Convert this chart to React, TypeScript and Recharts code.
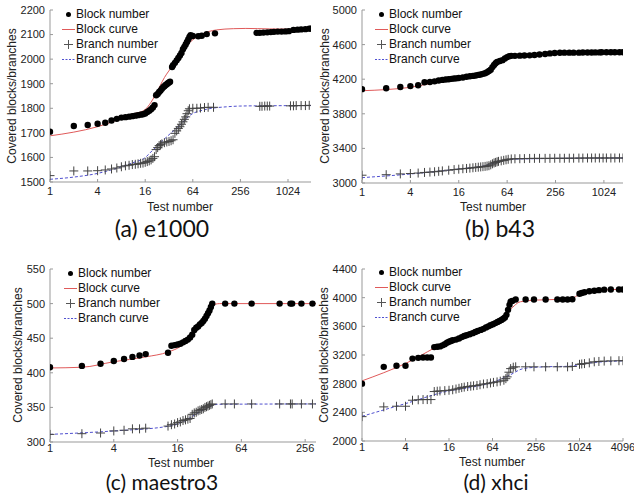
import React from 'react';
import { ComposedChart, Scatter, Line, XAxis, YAxis, Legend } from 'recharts';

// ---------- (a) e1000 ----------
const aBlockN = [1,2,3,4,5,6,7,8,9,10,11,12,13,14,15,16,17,18,19,20,21,22,23,24,25,26,27,28,29,30,31,32,33,35,36,38,40,42,44,46,48,50,52,54,56,58,60,64,75,83,96,122,410,450,500,560,620,680,760,850,950,1050,1200,1350,1500,1700,1900,2000];
const aBlockV = [1705,1728,1732,1737,1741,1750,1757,1762,1764,1766,1768,1770,1772,1774,1776,1779,1785,1790,1796,1803,1813,1853,1858,1866,1872,1880,1886,1890,1895,1898,1902,1905,1908,1968,1975,1985,1995,2005,2015,2025,2040,2050,2060,2070,2080,2090,2097,2094,2093,2095,2102,2105,2107,2107,2108,2109,2110,2111,2112,2112,2113,2114,2119,2120,2121,2122,2124,2124];
const aBlockCurveN = [1,2,4,8,11,13,16,19,22,28,36,48,60,79,128,208,300,600,1024,2000];
const aBlockCurveV = [1688,1703,1725,1759,1777,1782,1795,1825,1860,1925,1976,2037,2071,2098,2119,2124,2125,2123,2122,2123];
const aBranchN = [1,2,3,4,5,6,7,8,9,10,11,12,13,14,15,16,17,18,19,20,21,22,23,24,25,26,28,30,32,34,36,38,40,42,44,46,48,50,52,54,56,58,64,72,80,90,100,117,450,480,520,560,600,1100,1200,1300,1500,1700,1900];
const aBranchV = [1526,1545,1545,1546,1549,1553,1557,1562,1566,1568,1571,1572,1574,1576,1577,1580,1583,1586,1590,1596,1603,1632,1640,1648,1652,1655,1660,1663,1665,1668,1672,1698,1708,1718,1725,1735,1745,1755,1765,1778,1790,1798,1800,1800,1801,1803,1804,1804,1808,1808,1809,1809,1809,1810,1810,1811,1811,1811,1812];
const aBranchCurveN = [1,2,4,8,12,15,20,25,30,44,60,96,170,250,400,2000];
const aBranchCurveV = [1511,1520,1535,1562,1582,1593,1630,1660,1684,1732,1773,1796,1806,1809,1810,1811];

// ---------- (b) b43 ----------
const bBlockN = [1,2,3,4,5,6,7,8,9,10,11,12,13,14,15,16,18,20,22,24,26,28,30,32,34,36,38,40,42,44,46,48,52,56,60,64,68,72,80,92,105,122,140,162,190,218,250,290,330,380,430,500,560,640,720,800,900,960,1100,1250,1400,1600,1770];
const bBlockV = [4085,4095,4110,4120,4130,4165,4168,4175,4185,4192,4197,4200,4204,4208,4210,4214,4220,4228,4234,4238,4242,4250,4255,4262,4268,4280,4295,4310,4340,4365,4385,4400,4410,4420,4440,4455,4465,4470,4470,4472,4474,4476,4480,4486,4492,4498,4503,4506,4507,4507,4507,4507,4508,4508,4509,4510,4510,4511,4511,4511,4511,4511,4511];
const bBlockCurveN = [1,2,4,8,16,24,34,40,46,55,65,92,290,1770];
const bBlockCurveV = [4067,4080,4106,4160,4210,4245,4287,4333,4383,4430,4453,4468,4499,4511];
const bBranchN = [1,2,3,4,5,6,7,8,9,10,12,14,16,18,20,22,24,26,28,30,32,34,36,38,40,42,44,46,48,50,54,58,62,66,72,80,92,105,122,140,162,190,218,250,290,330,380,430,500,560,640,720,800,900,1000,1100,1250,1400,1600,1770];
const bBranchV = [3090,3096,3105,3110,3115,3122,3126,3130,3135,3140,3148,3155,3160,3165,3168,3172,3176,3180,3183,3186,3189,3192,3196,3200,3210,3222,3232,3238,3245,3250,3256,3262,3268,3274,3278,3280,3281,3282,3284,3285,3285,3285,3285,3286,3286,3286,3287,3287,3288,3288,3289,3289,3289,3289,3289,3289,3289,3289,3289,3289];
const bBranchCurveN = [1,4,16,34,50,72,150,1770];
const bBranchCurveV = [3062,3104,3162,3200,3246,3274,3281,3289];

// ---------- (c) maestro3 ----------
const cBlockN = [1,2,3,4,5,6,7,8,13,14,15,16,17,18,19,20,21,22,23,24,25,26,27,28,29,30,31,32,33,34,45,55,80,147,186,193,236,300];
const cBlockV = [408,410,413,417,420,423,425,427,429,439,440,441,442,444,446,448,451,455,462,465,467,470,472,475,478,482,486,490,495,500,500,500,500,500,500,500,500,500];
const cBlockCurveN = [1,2,4,8,13,17,22,28,34,36,40,324];
const cBlockCurveV = [407,408,416,423,430,438,454,474,496,499,500,500];
const cBranchN = [1,2,3,4,5,6,7,8,13,14,15,16,17,18,19,20,21,22,23,24,25,26,27,28,29,30,31,32,33,34,45,55,80,147,186,193,236,300];
const cBranchV = [311,312,313,316,317,319,319,320,323,325,326,328,329,331,332,333,334,340,342,343,345,346,347,348,350,351,352,353,354,355,355,355,355,355,355,355,355,355];
const cBranchCurveN = [1,4,13,17,22,30,38,324];
const cBranchCurveV = [311,316,322.7,327.5,337,349,354.5,355];

// ---------- (d) xhci ----------
const dBlockN = [1,2,3,4,5,6,7,8,9,10,11,12,13,14,15,16,17,18,20,22,24,26,28,31,34,37,40,44,48,52,56,60,65,70,75,80,85,90,95,100,105,110,114,120,134,184,240,348,505,600,700,815,1024,1100,1200,1400,1640,1900,2250,2780,3600,4096];
const dBlockV = [2800,3035,3050,3050,3150,3160,3165,3165,3165,3310,3315,3320,3335,3350,3370,3385,3395,3405,3415,3430,3450,3465,3475,3490,3505,3520,3535,3550,3565,3585,3600,3615,3630,3645,3660,3675,3690,3705,3725,3760,3830,3900,3945,3955,3975,3975,3975,3975,3975,3975,3975,3978,4055,4065,4075,4090,4097,4105,4112,4115,4115,4115];
const dBlockCurveN = [1,4,16,35,67,105,156,270,770,1070,2000,4096];
const dBlockCurveV = [2839,3081,3398,3515,3640,3804,3943,3967,3981,4060,4106,4116];
const dBranchN = [1,2,3,4,5,6,7,8,9,10,11,12,14,16,18,20,22,24,26,29,32,35,39,43,48,54,60,66,74,82,92,98,102,108,114,124,134,184,240,348,505,700,815,1024,1100,1200,1400,1640,1900,2250,2780,3600,4096];
const dBranchV = [2340,2476,2485,2485,2569,2575,2578,2578,2578,2690,2695,2698,2703,2708,2715,2725,2735,2745,2752,2760,2765,2770,2775,2785,2795,2800,2810,2818,2825,2835,2848,2870,2895,2960,3010,3030,3035,3035,3035,3035,3035,3035,3040,3070,3075,3080,3090,3105,3110,3115,3118,3120,3120];
const dBranchCurveN = [1,4,16,35,67,110,172,330,770,1070,4096];
const dBranchCurveV = [2345,2522,2699,2755,2825,2918,3011,3035,3044,3072,3119];

const xTicksA = [1,4,16,64,256,1024];
const xTicksC = [1,4,16,64,256];
const xTicksD = [1,4,16,64,256,1024,4096];
const yTicksA = [1500,1600,1700,1800,1900,2000,2100,2200];
const yTicksB = [3000,3400,3800,4200,4600,5000];
const yTicksC = [300,350,400,450,500,550];
const yTicksD = [2000,2400,2800,3200,3600,4000,4400];

const FONT = "'Liberation Sans', Arial, sans-serif";
const RED = '#e05a5a';
const BLUE = '#5050d0';
const AXIS = '#999';

const zip = (n: number[], v: number[]) => n.map((x, i) => ({ x, y: v[i] }));

const Dot = (p: any) => <circle cx={p.cx} cy={p.cy} r={3.2} fill="#000" />;
const Plus = (p: any) => (
  <path d={`M${p.cx - 4.5},${p.cy}h9M${p.cx},${p.cy - 4.5}v9`} stroke="#444" strokeWidth={1} fill="none" />
);

const LegendBox = () => {
  const row = (icon: React.ReactNode, text: string) => (
    <div style={{ display: 'flex', alignItems: 'center', height: 15, lineHeight: '15px' }}>
      <svg width={15} height={15} style={{ flex: 'none' }}>{icon}</svg>
      <span style={{ fontSize: 12, color: '#111', fontFamily: FONT, whiteSpace: 'nowrap' }}>{text}</span>
    </div>
  );
  return (
    <div>
      {row(<circle cx={7.5} cy={7.5} r={2.5} fill="#000" />, 'Block number')}
      {row(<line x1={1} x2={14} y1={7.5} y2={7.5} stroke={RED} strokeWidth={1} />, 'Block curve')}
      {row(<path d="M3,7.5h9M7.5,3v9" stroke="#555" strokeWidth={1} />, 'Branch number')}
      {row(<line x1={1} x2={14} y1={7.5} y2={7.5} stroke={BLUE} strokeWidth={1} strokeDasharray="2 1.5" />, 'Branch curve')}
    </div>
  );
};

type PanelProps = {
  left: number; top: number; yW: number; tickMargin: number; capSize: number;
  margin: { top: number; right: number; bottom: number; left: number };
  xDomain: [number, number]; xTicks: number[];
  yDomain: [number, number]; yTicks: number[];
  block: { x: number; y: number }[]; blockCurve: { x: number; y: number }[];
  branch: { x: number; y: number }[]; branchCurve: { x: number; y: number }[];
  legendPos: { left: number; top: number };
  yLabel: [number, number]; xLabel: [number, number]; caption: [number, number]; captionText: string;
};

const Panel = (p: PanelProps) => {
  const tick = { fontSize: 11, fill: '#222', fontFamily: FONT };
  return (
    <div style={{ position: 'absolute', left: p.left, top: p.top, width: 317, height: 247 }}>
      <ComposedChart width={317} height={247} margin={p.margin} style={{ overflow: 'visible' }}>
        <XAxis
          type="number" dataKey="x" scale="log" domain={p.xDomain} ticks={p.xTicks} interval={0}
          allowDataOverflow height={20} tick={tick} tickSize={-3} tickMargin={p.tickMargin}
          axisLine={{ stroke: AXIS }} tickLine={{ stroke: AXIS }}
        />
        <YAxis
          type="number" dataKey="y" domain={p.yDomain} ticks={p.yTicks} interval={0}
          allowDataOverflow width={p.yW} tick={tick} tickSize={-3} tickMargin={8}
          axisLine={{ stroke: AXIS }} tickLine={{ stroke: AXIS }}
        />
        <Legend
          layout="vertical" align="center" verticalAlign="middle"
          wrapperStyle={{ left: p.legendPos.left, top: p.legendPos.top, width: 'auto' }}
          content={() => <LegendBox />}
        />
        <Scatter name="Block number" data={p.block} shape={Dot} isAnimationActive={false} />
        <Line name="Block curve" data={p.blockCurve} dataKey="y" type="monotone" stroke={RED} strokeWidth={1} dot={false} activeDot={false} isAnimationActive={false} />
        <Scatter name="Branch number" data={p.branch} shape={Plus} isAnimationActive={false} />
        <Line name="Branch curve" data={p.branchCurve} dataKey="y" type="monotone" stroke={BLUE} strokeWidth={1} strokeDasharray="3 2" dot={false} activeDot={false} isAnimationActive={false} />
      </ComposedChart>
      <div style={{ position: 'absolute', left: p.yLabel[0], top: p.yLabel[1], transform: 'translate(-50%,-50%) rotate(-90deg)', fontFamily: FONT, fontSize: 12, lineHeight: 1, color: '#222', whiteSpace: 'nowrap' }}>
        Covered blocks/branches
      </div>
      <div style={{ position: 'absolute', left: p.xLabel[0], top: p.xLabel[1], transform: 'translate(-50%,-50%)', fontFamily: FONT, fontSize: 12, lineHeight: 1, color: '#222', whiteSpace: 'nowrap' }}>
        Test number
      </div>
      <div style={{ position: 'absolute', left: p.caption[0], top: p.caption[1], transform: 'translate(-50%,-50%)', fontFamily: "Lato, 'Open Sans', sans-serif", fontSize: p.capSize, lineHeight: 0.95, color: '#111', whiteSpace: 'nowrap' }}>
        {p.captionText}
      </div>
    </div>
  );
};

export default function App() {
  return (
    <div style={{ position: 'absolute', left: 0, top: 0, width: 634, height: 494, background: '#fff', overflow: 'hidden' }}>
      <Panel
        left={0} top={0} yW={50} tickMargin={8} capSize={23} margin={{ top: 10, right: 6, bottom: 45, left: 0 }}
        xDomain={[1, 2000]} xTicks={xTicksA} yDomain={[1500, 2200]} yTicks={yTicksA}
        block={zip(aBlockN, aBlockV)} blockCurve={zip(aBlockCurveN, aBlockCurveV)}
        branch={zip(aBranchN, aBranchV)} branchCurve={zip(aBranchCurveN, aBranchCurveV)}
        legendPos={{ left: 61, top: 6.5 }}
        yLabel={[12, 96]} xLabel={[180, 207]} caption={[162, 229]} captionText="(a) e1000"
      />
      <Panel
        left={317} top={0} yW={45} tickMargin={8} capSize={23} margin={{ top: 10, right: 11, bottom: 44, left: 0 }}
        xDomain={[1, 1770]} xTicks={xTicksA} yDomain={[3000, 5000]} yTicks={yTicksB}
        block={zip(bBlockN, bBlockV)} blockCurve={zip(bBlockCurveN, bBlockCurveV)}
        branch={zip(bBranchN, bBranchV)} branchCurve={zip(bBranchCurveN, bBranchCurveV)}
        legendPos={{ left: 57, top: 6.5 }}
        yLabel={[8, 96]} xLabel={[176, 207]} caption={[183, 229]} captionText="(b) b43"
      />
      <Panel
        left={0} top={247} yW={50} tickMargin={5} capSize={21} margin={{ top: 22, right: 1, bottom: 32, left: 0 }}
        xDomain={[1, 324]} xTicks={xTicksC} yDomain={[300, 550]} yTicks={yTicksC}
        block={zip(cBlockN, cBlockV)} blockCurve={zip(cBlockCurveN, cBlockCurveV)}
        branch={zip(cBranchN, cBranchV)} branchCurve={zip(cBranchCurveN, cBranchCurveV)}
        legendPos={{ left: 63, top: 18.5 }}
        yLabel={[18, 108]} xLabel={[181, 215.5]} caption={[162, 235]} captionText="(c) maestro3"
      />
      <Panel
        left={317} top={247} yW={45} tickMargin={5} capSize={21} margin={{ top: 22, right: 11, bottom: 33, left: 0 }}
        xDomain={[1, 4096]} xTicks={xTicksD} yDomain={[2000, 4400]} yTicks={yTicksD}
        block={zip(dBlockN, dBlockV)} blockCurve={zip(dBlockCurveN, dBlockCurveV)}
        branch={zip(dBranchN, dBranchV)} branchCurve={zip(dBranchCurveN, dBranchCurveV)}
        legendPos={{ left: 57, top: 17.5 }}
        yLabel={[7, 108]} xLabel={[175, 215]} caption={[179, 235]} captionText="(d) xhci"
      />
    </div>
  );
}
